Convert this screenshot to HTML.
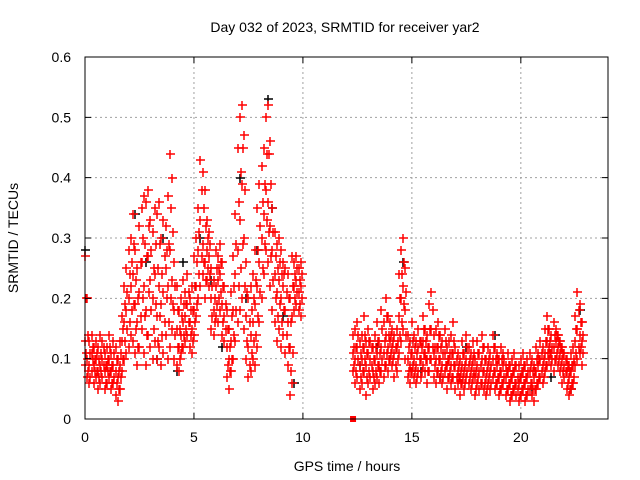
<!DOCTYPE html>
<html><head><meta charset="utf-8"><style>
body{margin:0;background:#fff}
svg{display:block;font-family:"Liberation Sans",sans-serif;font-size:14px}
</style></head><body>
<svg id="chart" width="640" height="480" viewBox="0 0 640 480">
<rect width="640" height="480" fill="#fff"/>
<text x="345" y="32" text-anchor="middle">Day 032 of 2023, SRMTID for receiver yar2</text>
<text x="347" y="471" text-anchor="middle">GPS time / hours</text>
<text transform="translate(18,238) rotate(-90)" text-anchor="middle">SRMTID / TECUs</text>
<g id="grid"></g>
<g id="marks"></g>
<g id="axes"></g>
</svg>
<script>
const xTicks=[0,5,10,15,20];
const yTicks=[0,0.1,0.2,0.3,0.4,0.5,0.6];
const yTickLabels=["0","0.1","0.2","0.3","0.4","0.5","0.6"];
const times1=[0.0,0.1,0.2,0.3,0.4,0.5,0.6,0.7,0.8,0.9,1.0,1.1,1.2,1.3,1.4,1.5,1.6,1.7,1.8,1.9,2.0,2.1,2.2,2.3,2.4,2.5,2.6,2.7,2.8,2.9,3.0,3.1,3.2,3.3,3.4,3.5,3.6,3.7,3.8,3.9,4.0,4.1,4.2,4.3,4.4,4.5,4.6,4.7,4.8,4.9,5.0,5.1,5.2,5.3,5.4,5.5,5.6,5.7,5.8,5.9,6.0,6.1,6.2,6.3,6.4,6.5,6.6,6.7,6.8,6.9,7.0,7.1,7.2,7.3,7.4,7.5,7.6,7.7,7.8,7.9,8.0,8.1,8.2,8.3,8.4,8.5,8.6,8.7,8.8,8.9,9.0,9.1,9.2,9.3,9.4,9.5,9.6,9.7,9.8,9.9];
const low1=[.09,.07,.06,.08,.06,.07,.05,.06,.07,.05,.06,.07,.05,.06,.04,.03,.05,.08,.10,.11,.12,.14,.13,.11,.09,.12,.15,.11,.09,.14,.12,.10,.13,.10,.12,.09,.11,.14,.10,.12,.15,.10,.09,.08,.11,.12,.13,.14,.12,.11,.14,.17,.20,.22,.24,.20,.23,.22,.15,.14,.17,.16,.18,.14,.13,.07,.05,.08,.10,.13,.16,.18,.20,.15,.10,.07,.08,.10,.09,.12,.16,.20,.24,.28,.26,.22,.18,.16,.13,.15,.12,.14,.11,.09,.04,.06,.18,.19,.18,.17];
const mid1=[.13,.10,.09,.11,.09,.10,.08,.09,.10,.08,.09,.10,.08,.09,.08,.07,.09,.13,.16,.18,.20,.22,.24,.19,.16,.21,.26,.22,.18,.27,.23,.20,.24,.17,.22,.19,.21,.25,.22,.28,.23,.18,.15,.12,.14,.16,.17,.19,.16,.15,.18,.22,.28,.33,.29,.26,.28,.27,.20,.18,.22,.23,.24,.19,.17,.12,.10,.13,.18,.24,.28,.33,.39,.30,.17,.12,.14,.16,.19,.22,.26,.30,.34,.38,.36,.32,.28,.24,.21,.23,.20,.22,.18,.16,.12,.17,.22,.23,.21,.22];
const high1=[.27,.20,.13,.14,.12,.13,.12,.14,.13,.11,.12,.14,.11,.13,.12,.10,.13,.17,.22,.25,.28,.30,.34,.28,.25,.32,.35,.37,.36,.38,.33,.31,.35,.34,.36,.30,.33,.32,.37,.44,.40,.26,.22,.18,.20,.23,.21,.24,.20,.22,.27,.30,.35,.43,.41,.38,.33,.31,.25,.23,.28,.27,.29,.26,.22,.18,.15,.21,.27,.34,.45,.50,.52,.47,.26,.20,.22,.24,.28,.35,.39,.42,.45,.50,.52,.46,.35,.31,.29,.30,.28,.26,.25,.24,.20,.27,.26,.27,.25,.26];
const extraA1=[.11,.08,.07,.10,.08,.08,.07,.08,.09,.06,.08,.08,.06,.07,.06,.05,.07,.10,.13,.15,.16,.18,.19,.15,.12,.17,.20,.17,.14,.21,.18,.15,.19,.13,.17,.14,.16,.20,.16,.20,.19,.14,.12,.10,.12,.14,.15,.16,.14,.13,.16,.19,.24,.27,.26,.23,.25,.24,.17,.16,.19,.20,.21,.16,.15,.09,.08,.10,.14,.18,.22,.25,.29,.22,.13,.09,.11,.13,.14,.17,.21,.25,.29,.33,.31,.27,.23,.20,.17,.19,.16,.18,.14,.12,.08,.11,.20,.21,.19,.20];
const extraB1=[.20,.14,.11,.12,.10,.11,.10,.11,.12,.09,.10,.12,.09,.11,.10,.08,.11,.15,.19,.21,.24,.26,.29,.23,.20,.26,.30,.29,.27,.32,.28,.25,.29,.25,.29,.24,.27,.28,.29,.35,.31,.22,.18,.15,.17,.19,.19,.21,.18,.18,.22,.26,.31,.38,.35,.32,.30,.29,.22,.20,.25,.25,.26,.22,.19,.15,.12,.17,.22,.29,.36,.41,.45,.38,.21,.16,.18,.20,.23,.28,.32,.36,.39,.44,.44,.39,.31,.27,.25,.26,.24,.24,.21,.20,.16,.22,.24,.25,.23,.24];
const times2=[12.3,12.4,12.5,12.6,12.7,12.8,12.9,13.0,13.1,13.2,13.3,13.4,13.5,13.6,13.7,13.8,13.9,14.0,14.1,14.2,14.3,14.4,14.5,14.6,14.7,14.8,14.9,15.0,15.1,15.2,15.3,15.4,15.5,15.6,15.7,15.8,15.9,16.0,16.1,16.2,16.3,16.4,16.5,16.6,16.7,16.8,16.9,17.0,17.1,17.2,17.3,17.4,17.5,17.6,17.7,17.8,17.9,18.0,18.1,18.2,18.3,18.4,18.5,18.6,18.7,18.8,18.9,19.0,19.1,19.2,19.3,19.4,19.5,19.6,19.7,19.8,19.9,20.0,20.1,20.2,20.3,20.4,20.5,20.6,20.7,20.8,20.9,21.0,21.1,21.2,21.3,21.4,21.5,21.6,21.7,21.8,21.9,22.0,22.1,22.2,22.3,22.4,22.5,22.6,22.7,22.8];
const low2=[.08,.06,.07,.05,.06,.08,.04,.06,.07,.05,.06,.07,.06,.08,.07,.09,.08,.10,.09,.07,.08,.11,.13,.15,.10,.07,.06,.08,.07,.06,.08,.07,.09,.08,.06,.08,.10,.07,.06,.08,.07,.06,.08,.05,.07,.06,.07,.05,.06,.04,.06,.05,.07,.06,.05,.07,.04,.06,.05,.06,.05,.04,.06,.05,.07,.05,.06,.04,.05,.06,.04,.05,.03,.04,.05,.04,.03,.04,.05,.03,.04,.05,.04,.03,.05,.06,.07,.06,.08,.09,.10,.09,.08,.10,.09,.08,.06,.07,.05,.04,.05,.06,.09,.10,.11,.09];
const mid2=[.11,.10,.12,.09,.10,.12,.09,.11,.10,.08,.10,.11,.09,.12,.11,.14,.12,.13,.12,.11,.12,.17,.20,.22,.18,.10,.09,.11,.10,.09,.12,.10,.13,.11,.10,.12,.15,.11,.10,.12,.10,.09,.11,.09,.10,.09,.11,.09,.08,.07,.09,.08,.10,.09,.08,.10,.07,.09,.08,.10,.08,.07,.09,.08,.10,.08,.09,.07,.08,.09,.07,.08,.06,.07,.08,.06,.06,.07,.08,.06,.07,.08,.06,.07,.08,.09,.10,.09,.11,.13,.12,.11,.12,.13,.12,.11,.10,.09,.08,.07,.08,.09,.13,.15,.14,.13];
const high2=[.14,.15,.16,.13,.14,.17,.13,.15,.13,.12,.14,.16,.13,.18,.16,.20,.17,.16,.15,.14,.15,.24,.28,.30,.25,.14,.13,.16,.14,.13,.15,.13,.17,.15,.14,.19,.21,.14,.15,.16,.14,.13,.15,.12,.13,.14,.16,.12,.11,.10,.13,.11,.14,.12,.11,.13,.10,.13,.11,.14,.12,.10,.12,.11,.14,.12,.11,.10,.12,.11,.09,.11,.09,.10,.11,.09,.09,.10,.11,.09,.10,.11,.10,.09,.12,.11,.13,.12,.15,.17,.15,.14,.16,.15,.14,.13,.12,.11,.10,.09,.11,.12,.17,.21,.19,.16];
const extraA2=[.09,.08,.10,.07,.08,.10,.07,.08,.09,.07,.08,.09,.08,.10,.09,.11,.10,.11,.10,.09,.10,.14,.16,.19,.14,.08,.08,.09,.08,.07,.10,.08,.11,.10,.08,.10,.12,.09,.08,.10,.08,.07,.09,.07,.08,.07,.09,.07,.07,.06,.07,.06,.08,.07,.06,.08,.05,.07,.06,.08,.06,.05,.07,.06,.08,.06,.07,.05,.06,.07,.05,.06,.04,.05,.06,.05,.04,.05,.06,.04,.05,.06,.05,.05,.06,.07,.08,.07,.09,.11,.11,.10,.10,.11,.10,.09,.08,.08,.06,.05,.06,.07,.11,.12,.12,.11];
const extraB2=[.12,.12,.14,.11,.12,.14,.11,.13,.12,.10,.12,.13,.11,.15,.13,.17,.14,.14,.13,.12,.13,.20,.24,.26,.21,.12,.11,.13,.12,.11,.13,.12,.15,.13,.12,.15,.18,.12,.12,.14,.12,.11,.13,.10,.11,.11,.13,.10,.09,.08,.11,.09,.12,.10,.09,.11,.08,.11,.09,.12,.10,.08,.10,.09,.12,.10,.10,.08,.10,.10,.08,.09,.07,.08,.09,.07,.07,.08,.09,.07,.08,.09,.08,.08,.10,.10,.11,.10,.13,.15,.13,.12,.14,.14,.13,.12,.11,.10,.09,.08,.09,.10,.15,.18,.16,.14];
const blackTimes=[0.0,2.3,2.8,3.3,3.6,4.2,4.5,5.3,5.8,6.3,7.1,7.4,7.9,8.4,8.6,9.1,9.6,12.6,13.4,14.6,15.4,16.3,17.5,18.8,20.5,21.4,22.3,22.7];
const blackValues=[.28,.34,.26,.10,.30,.08,.26,.30,.23,.12,.40,.20,.28,.53,.35,.17,.06,.09,.12,.26,.08,.07,.12,.14,.05,.07,.05,.18];
const gapTimes=[12.3];
const gapValues=[0];

const L=85,R=608,T=57,B=419,XMAX=24,YMAX=0.6;
const xs=v=>L+v/XMAX*(R-L);
const ys=v=>B-v/YMAX*(B-T);
const NS="http://www.w3.org/2000/svg";
const grid=document.getElementById('grid'),axes=document.getElementById('axes'),marks=document.getElementById('marks');
function mk(tag,attrs,parent){const e=document.createElementNS(NS,tag);for(const k in attrs)e.setAttribute(k,attrs[k]);parent.appendChild(e);return e;}
xTicks.forEach(t=>{
  const x=xs(t);
  if(t>0){const g=mk('line',{x1:x,y1:T,x2:x,y2:B,stroke:'#a0a0a0','stroke-dasharray':'2,3'},grid);
  
  }
  const tk=mk('path',{d:`M${x},${B}v-6M${x},${T}v6`,stroke:'#000'},axes);
  
  
  const lb=mk('text',{x:x,y:B+23,'text-anchor':'middle'},axes);lb.textContent=String(t);
  
  
});
yTicks.forEach((t,i)=>{
  const y=ys(t);
  if(t>0&&t<YMAX){const g=mk('line',{x1:L,y1:y,x2:R,y2:y,stroke:'#a0a0a0','stroke-dasharray':'2,3'},grid);
  
  }
  const tk=mk('path',{d:`M${L},${y}h6M${R},${y}h-6`,stroke:'#000'},axes);
  
  
  const lb=mk('text',{x:L-14,y:y+5,'text-anchor':'end'},axes);lb.textContent=yTickLabels[i];
  
  
});
const border=mk('rect',{x:L,y:T,width:R-L,height:B-T,fill:'none',stroke:'#000'},axes);


function plus(t,v,color){
  const x=Math.round(xs(t)),y=Math.round(ys(v));
  const p=mk('path',{d:`M${x-4},${y}h9M${x},${y-4}v9`,stroke:color,'stroke-width':1.5},marks);
  
  
}
blackTimes.forEach((t,i)=>plus(t,blackValues[i],'#000'));
[[times1,[low1,mid1,high1],[extraA1,extraB1]],[times2,[low2,mid2,high2],[extraA2,extraB2]]].forEach(([ts,sets,extras])=>{
  sets.forEach(vals=>ts.forEach((t,i)=>plus(t,vals[i],'#f00')));
  extras.forEach(vals=>ts.forEach((t,i)=>plus(t+0.05,vals[i],'#f00')));
});
gapTimes.forEach((t,i)=>{
  const r=mk('rect',{x:xs(t)-3,y:ys(gapValues[i])-3,width:6,height:6,fill:'#f00'},marks);
  
  
});
</script>
</body></html>
